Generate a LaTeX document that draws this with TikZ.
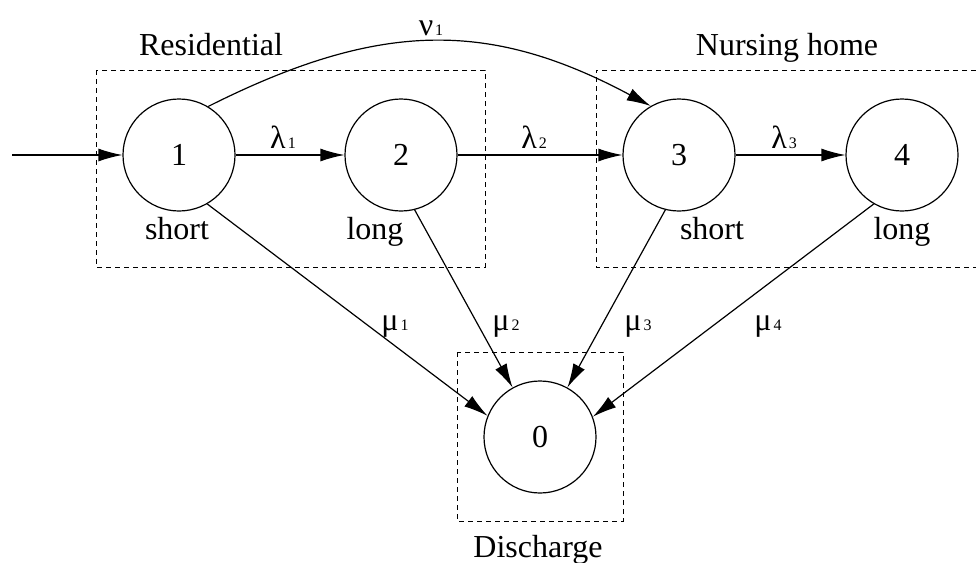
\documentclass[tikz,border=0pt]{standalone}
\usepackage{fontspec}
\setmainfont{Liberation Serif}
\usetikzlibrary{arrows.meta}
\newcommand{\sbx}[1]{\hspace{2pt}{\fontsize{16}{16}\selectfont #1}}
\begin{document}
\begin{tikzpicture}[x=1pt,y=-1pt,line width=1.2pt,
  font=\fontsize{32}{38}\selectfont,
  st/.style={circle,draw,minimum size=112pt,inner sep=0pt},
  arr/.style={-{Latex[length=24pt,width=13pt]}},
  grp/.style={draw,line width=0.9pt,dash pattern=on 5pt off 4pt},
  lab/.style={anchor=base,inner sep=0pt}]
\useasboundingbox (0,0) rectangle (976,562);
% group boxes
\draw[grp] (96,70) rectangle (485,267);
\draw[grp] (976,70) -- (596,70) -- (596,267) -- (976,267);
\draw[grp] (457,352) rectangle (623,521);
\node[lab] (tres) at (211,55) {Residential};
\node[lab] (tnur) at (787,55) {Nursing home};
\node[lab] (tdis) at (538,557) {Discharge};
% states
\node[st] (n1) at (179,155) {1};
\node[st] (n2) at (401,155) {2};
\node[st] (n3) at (679,155) {3};
\node[st] (n4) at (902,155) {4};
\node[st] (n0) at (540,437) {0};
\node[lab] (s1) at (177,239) {short};
\node[lab] (l2) at (375,239) {long};
\node[lab] (s3) at (712,239) {short};
\node[lab] (l4) at (902,239) {long};
% connectors
\coordinate (in) at (12,155);
\draw[arr] (in) -- (n1);
\draw[arr] (n1) -- (n2);
\draw[arr] (n2) -- (n3);
\draw[arr] (n3) -- (n4);
\draw[arr] (n1.59) .. controls (380,20) and (490,20) .. (n3.120);
\draw[arr] (n1.-60) -- (n0.158);
\draw[arr] (n2.-76) -- (n0.119);
\draw[arr] (n3.-104) -- (n0.61);
\draw[arr] (n4.-120) -- (n0.21);
% rate labels
\node[lab] (la1) at (283,148) {λ\sbx{1}};
\node[lab] (la2) at (534,148) {λ\sbx{2}};
\node[lab] (la3) at (784,148) {λ\sbx{3}};
\node[lab] (nu1) at (431,35) {ν\sbx{1}};
\node[lab] (mu1) at (395,330) {μ\sbx{1}};
\node[lab] (mu2) at (506,330) {μ\sbx{2}};
\node[lab] (mu3) at (638,330) {μ\sbx{3}};
\node[lab] (mu4) at (768,330) {μ\sbx{4}};
\end{tikzpicture}
\end{document}
